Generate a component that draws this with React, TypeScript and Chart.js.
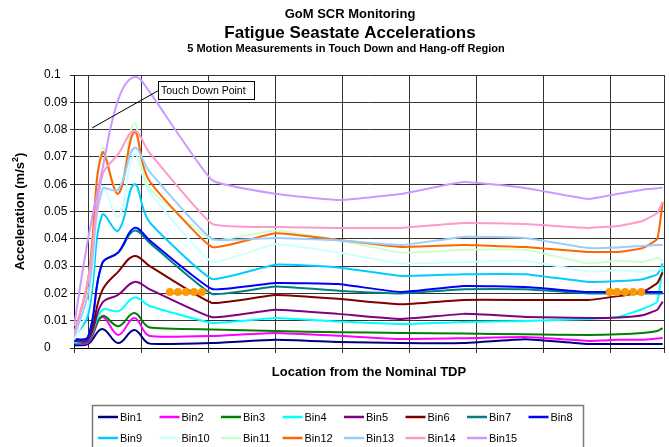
import React, { useEffect, useRef } from "react";
import { Chart, registerables } from "chart.js";

Chart.register(...registerables);

const FONT = 'Arial, "Liberation Sans", Helvetica, sans-serif';

// Measurement locations along the riser (relative to the nominal TDP)
const LOCATIONS = [0, 21, 42, 66, 90, 113, 206, 300, 394, 487, 581, 673, 767, 812, 848, 870, 878];

// RMS acceleration per seastate bin (m/s^2)
const BIN1 = [0.001, 0.0015, 0.007, 0.0018, 0.0066, 0.0016, 0.0018, 0.003, 0.0022, 0.0018, 0.0018, 0.0032, 0.0015, 0.0015, 0.0015, 0.0015, 0.0015];
const BIN2 = [0.002, 0.002, 0.0113, 0.0048, 0.011, 0.0044, 0.0044, 0.0055, 0.0045, 0.0033, 0.0036, 0.004, 0.0026, 0.003, 0.003, 0.0035, 0.0037];
const BIN3 = [0.002, 0.0025, 0.0117, 0.008, 0.0128, 0.0075, 0.0068, 0.0062, 0.0058, 0.0055, 0.0053, 0.005, 0.0048, 0.005, 0.0055, 0.0062, 0.0073];
const BIN4 = [0.002, 0.003, 0.0139, 0.0135, 0.0185, 0.0154, 0.0092, 0.011, 0.0097, 0.0088, 0.0095, 0.0099, 0.0106, 0.0114, 0.0143, 0.017, 0.03];
const BIN5 = [0.0025, 0.003, 0.0165, 0.0195, 0.0242, 0.0215, 0.0113, 0.014, 0.0125, 0.0106, 0.0125, 0.0114, 0.011, 0.0112, 0.012, 0.014, 0.017];
const BIN6 = [0.003, 0.004, 0.021, 0.028, 0.0337, 0.03, 0.0165, 0.0194, 0.018, 0.016, 0.0176, 0.0176, 0.0176, 0.019, 0.0205, 0.0238, 0.0277];
const BIN7 = [0.003, 0.004, 0.031, 0.035, 0.043, 0.0385, 0.0198, 0.0225, 0.021, 0.02, 0.0215, 0.0215, 0.02, 0.02, 0.02, 0.02, 0.02];
const BIN8 = [0.003, 0.004, 0.031, 0.035, 0.044, 0.0394, 0.0216, 0.0238, 0.0234, 0.0205, 0.0227, 0.0223, 0.0205, 0.0205, 0.0205, 0.0205, 0.0205];
const BIN9 = [0.004, 0.012, 0.0487, 0.043, 0.06, 0.046, 0.0253, 0.0305, 0.0295, 0.0264, 0.027, 0.027, 0.0242, 0.0245, 0.0252, 0.027, 0.031];
const BIN10 = [0.003, 0.015, 0.059, 0.048, 0.071, 0.057, 0.0315, 0.038, 0.035, 0.031, 0.0315, 0.032, 0.028, 0.0285, 0.028, 0.0285, 0.0295];
const BIN11 = [0.004, 0.025, 0.073, 0.057, 0.0824, 0.0586, 0.0396, 0.043, 0.0395, 0.035, 0.036, 0.036, 0.031, 0.032, 0.0315, 0.033, 0.032];
const BIN12 = [0.005, 0.025, 0.0714, 0.0565, 0.079, 0.061, 0.037, 0.042, 0.0396, 0.037, 0.0377, 0.037, 0.0352, 0.0352, 0.0366, 0.04, 0.0535];
const BIN13 = [0.004, 0.02, 0.058, 0.058, 0.0733, 0.0645, 0.04, 0.0403, 0.0395, 0.0377, 0.0407, 0.0403, 0.0366, 0.0368, 0.0374, 0.0377, 0.0377];
const BIN14 = [0.005, 0.025, 0.063, 0.071, 0.0795, 0.0714, 0.0455, 0.0443, 0.044, 0.044, 0.0458, 0.0454, 0.044, 0.0447, 0.0465, 0.0495, 0.0535];
const BIN15 = [0.008, 0.04, 0.065, 0.091, 0.0993, 0.0937, 0.0615, 0.0565, 0.0542, 0.0564, 0.0608, 0.0586, 0.0546, 0.0565, 0.058, 0.0585, 0.0588];

const BIN_NAMES = ["Bin1", "Bin2", "Bin3", "Bin4", "Bin5", "Bin6", "Bin7", "Bin8", "Bin9", "Bin10", "Bin11", "Bin12", "Bin13", "Bin14", "Bin15"];
const BIN_VALUES = [BIN1, BIN2, BIN3, BIN4, BIN5, BIN6, BIN7, BIN8, BIN9, BIN10, BIN11, BIN12, BIN13, BIN14, BIN15];
const BIN_COLORS = [
  "#000080", "#FF00FF", "#008000", "#00FFFF", "#800080",
  "#800000", "#008080", "#0000FF", "#00CCFF", "#CCFFFF",
  "#CCFFCC", "#FF6600", "#99CCFF", "#FF99CC", "#CC99FF",
];

// Motion measurement marker positions
const MARKER_LOCATIONS = [143, 155, 167, 179, 191, 799, 810, 822, 834, 846];
const MARKER_LEVELS = [0.0205, 0.0205, 0.0205, 0.0205, 0.0205, 0.0205, 0.0205, 0.0205, 0.0205, 0.0205];

// Touch down point
const TDP_LOCATION = 21;
const TDP_LABEL = "Touch Down Point";

const Y_TICK_STEP = 0.01;
const X_TICK_STEP = 100;

// Beyond this point index the sparse stations are joined with gentler curves
const DENSE_POINT_COUNT = 6;
const SPARSE_HANDLE_SCALE = 0.3;

const TITLE = "GoM SCR Monitoring";
const SUBTITLE_1 = "Fatigue Seastate Accelerations";
const SUBTITLE_2 = "5 Motion Measurements in Touch Down and Hang-off Region";
const X_TITLE = "Location from the Nominal TDP";

// Shortens the bezier handles on the widely spaced stations so the long
// spans stay nearly straight while the densely sampled zone stays smooth.
const sparseSmoothing = {
  id: "sparseSmoothing",
  beforeDatasetsDraw(chart: any) {
    chart.getSortedVisibleDatasetMetas().forEach((meta: any) => {
      const line = meta.dataset;
      if (!line || !line.options || !line.options.tension) return;
      line.updateControlPoints(chart.chartArea, "x");
      const pts = meta.data;
      pts.forEach((p: any, i: number) => {
        if (i < DENSE_POINT_COUNT - 1) return;
        const k = SPARSE_HANDLE_SCALE;
        if (i >= DENSE_POINT_COUNT) {
          p.cp1x = p.x + (p.cp1x - p.x) * k;
          p.cp1y = p.y + (p.cp1y - p.y) * k;
        }
        p.cp2x = p.x + (p.cp2x - p.x) * k;
        p.cp2y = p.y + (p.cp2y - p.y) * k;
      });
    });
  },
};

const decorations = {
  id: "decorations",
  beforeDatasetsDraw(chart: any) {
    const { ctx, chartArea, scales } = chart;
    const px = Math.round(scales.x.getPixelForValue(TDP_LOCATION)) + 0.5;
    ctx.save();
    ctx.strokeStyle = "#333";
    ctx.lineWidth = 1;
    ctx.beginPath();
    ctx.moveTo(px, chartArea.top);
    ctx.lineTo(px, chartArea.bottom);
    ctx.stroke();
    ctx.restore();
  },
  afterDatasetsDraw(chart: any) {
    const { ctx, scales } = chart;
    const { x, y } = scales;
    // label box with leader line pointing at the TDP
    const bx = Math.round(x.getPixelForValue(125)) + 0.5;
    const by = Math.round(y.getPixelForValue(0.0978)) + 0.5;
    const bw = 96;
    const bh = 18;
    ctx.save();
    ctx.strokeStyle = "#000";
    ctx.lineWidth = 1;
    ctx.beginPath();
    ctx.moveTo(x.getPixelForValue(27), y.getPixelForValue(0.0806));
    ctx.lineTo(bx, by + bh / 2);
    ctx.stroke();
    ctx.fillStyle = "#fff";
    ctx.fillRect(bx, by, bw, bh);
    ctx.strokeRect(bx, by, bw, bh);
    ctx.fillStyle = "#000";
    ctx.font = `10.5px ${FONT}`;
    ctx.textAlign = "left";
    ctx.textBaseline = "middle";
    ctx.fillText(TDP_LABEL, bx + 2.5, by + bh / 2 + 0.5);
    ctx.restore();
  },
  afterDraw(chart: any) {
    const { ctx, chartArea } = chart;
    ctx.save();
    ctx.fillStyle = "#000";
    ctx.textAlign = "center";
    ctx.textBaseline = "middle";
    ctx.font = `bold 13px ${FONT}`;
    ctx.fillText(TITLE, 350, 14);
    ctx.font = `bold 17px ${FONT}`;
    ctx.fillText(SUBTITLE_1, 350, 33);
    ctx.font = `bold 11px ${FONT}`;
    ctx.fillText(SUBTITLE_2, 346, 49);

    // x axis title
    ctx.font = `bold 13px ${FONT}`;
    ctx.fillText(X_TITLE, (chartArea.left + chartArea.right) / 2, 372);

    // y axis title with superscript
    ctx.save();
    ctx.translate(20, (chartArea.top + chartArea.bottom) / 2);
    ctx.rotate(-Math.PI / 2);
    ctx.font = `bold 13px ${FONT}`;
    const main = "Acceleration (m/s";
    const sup = "2";
    const tail = ")";
    const wMain = ctx.measureText(main).width;
    const wTail = ctx.measureText(tail).width;
    ctx.font = `bold 9px ${FONT}`;
    const wSup = ctx.measureText(sup).width;
    const total = wMain + wSup + wTail;
    let cx = -total / 2;
    ctx.textAlign = "left";
    ctx.font = `bold 13px ${FONT}`;
    ctx.fillText(main, cx, 0);
    cx += wMain;
    ctx.font = `bold 9px ${FONT}`;
    ctx.fillText(sup, cx, -4);
    cx += wSup;
    ctx.font = `bold 13px ${FONT}`;
    ctx.fillText(tail, cx, 0);
    ctx.restore();

    // legend
    ctx.strokeStyle = "#7a7a7a";
    ctx.lineWidth = 1.5;
    ctx.strokeRect(92.5, 405.5, 491, 52);
    ctx.font = `11px ${FONT}`;
    ctx.textAlign = "left";
    ctx.textBaseline = "middle";
    BIN_NAMES.forEach((name, i) => {
      const col = i % 8;
      const row = Math.floor(i / 8);
      const lx = 98 + col * 61.5;
      const ly = 417 + row * 21;
      ctx.strokeStyle = BIN_COLORS[i];
      ctx.lineWidth = 2.5;
      ctx.beginPath();
      ctx.moveTo(lx, ly);
      ctx.lineTo(lx + 20, ly);
      ctx.stroke();
      ctx.fillStyle = "#000";
      ctx.fillText(name, lx + 22, ly + 0.5);
    });
    ctx.restore();
  },
};

export default function App() {
  const canvasRef = useRef<HTMLCanvasElement | null>(null);

  useEffect(() => {
    const canvas = canvasRef.current;
    if (!canvas) return;

    const lineSets = BIN_NAMES.map((name, i) => ({
      type: "line" as const,
      label: name,
      data: LOCATIONS.map((loc, k) => ({ x: loc, y: BIN_VALUES[i][k] })),
      borderColor: BIN_COLORS[i],
      backgroundColor: BIN_COLORS[i],
      borderWidth: 2,
      pointRadius: 0,
      tension: 0.4,
      fill: false,
      order: BIN_NAMES.length - i,
    }));

    const markerSet = {
      type: "scatter" as const,
      label: "Motion measurements",
      data: MARKER_LOCATIONS.map((loc, k) => ({ x: loc, y: MARKER_LEVELS[k] })),
      showLine: false,
      pointRadius: 4,
      pointBackgroundColor: "#FF9900",
      pointBorderColor: "#FF9900",
      pointBorderWidth: 0,
      order: 0,
    };

    const chart = new Chart(canvas, {
      type: "line",
      data: { datasets: [...lineSets, markerSet] as any },
      options: {
        animation: false,
        responsive: false,
        maintainAspectRatio: false,
        layout: { padding: { left: 44, top: 75, right: 5, bottom: 0 } },
        plugins: {
          legend: { display: false },
          tooltip: { enabled: false },
          title: { display: false },
        },
        scales: {
          x: {
            type: "linear",
            min: 0,
            max: 880,
            afterFit: (s: any) => {
              s.height = 99;
            },
            ticks: {
              stepSize: X_TICK_STEP,
              autoSkip: false,
              callback: () => "",
            },
            grid: { color: "#333", lineWidth: 1, drawTicks: true, tickLength: 5 },
            border: { display: true, color: "#000", width: 1 },
          },
          y: {
            type: "linear",
            min: 0,
            max: 0.1,
            afterFit: (s: any) => {
              s.width = 30;
            },
            ticks: {
              stepSize: Y_TICK_STEP,
              crossAlign: "far",
              color: "#000",
              font: { family: FONT, size: 12 },
              callback: (v: any) => String(parseFloat(Number(v).toFixed(2))),
            },
            grid: { color: "#333", lineWidth: 1, drawTicks: true, tickLength: 4 },
            border: { display: true, color: "#000", width: 1 },
          },
        },
      },
      plugins: [sparseSmoothing, decorations],
    });

    return () => chart.destroy();
  }, []);

  return (
    <div style={{ position: "fixed", left: 0, top: 0, width: 669, height: 447, background: "#fff" }}>
      <canvas ref={canvasRef} width={669} height={447} style={{ display: "block" }} />
    </div>
  );
}
